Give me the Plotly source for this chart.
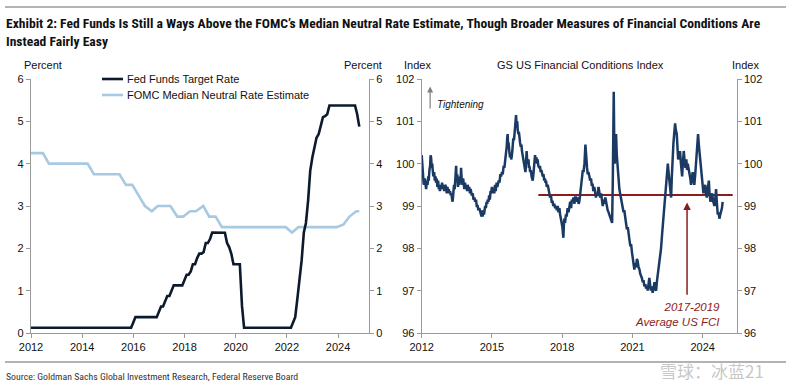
import datetime as dt
import plotly.graph_objects as go

# ---------------- data ----------------
# Fed funds target rate (midpoint, monthly average, month-end dates)
fed_dates = ["2012-01-01", "2015-11-30", "2015-12-31", "2016-01-31", "2016-11-30", "2016-12-31",
             "2017-01-31", "2017-02-28", "2017-03-31", "2017-04-30", "2017-05-31", "2017-06-30",
             "2017-07-31", "2017-11-30", "2017-12-31", "2018-01-31", "2018-02-28", "2018-03-31",
             "2018-04-30", "2018-05-31", "2018-06-30", "2018-07-31", "2018-08-31", "2018-09-30",
             "2018-10-31", "2018-11-30", "2018-12-31", "2019-01-31", "2019-07-31", "2019-08-31",
             "2019-09-30", "2019-10-31", "2019-11-30", "2020-02-29", "2020-03-31", "2020-04-30",
             "2022-02-28", "2022-03-31", "2022-04-30", "2022-05-31", "2022-06-30", "2022-07-31",
             "2022-08-31", "2022-09-30", "2022-10-31", "2022-11-30", "2022-12-31", "2023-01-31",
             "2023-02-28", "2023-03-31", "2023-04-30", "2023-05-31", "2023-06-30", "2023-07-31",
             "2023-08-31", "2024-08-31", "2024-09-30", "2024-10-31"]
fed_rate = [0.125, 0.125, 0.25, 0.375, 0.375, 0.52,
            0.625, 0.625, 0.76, 0.875, 0.875, 1.01,
            1.125, 1.125, 1.27, 1.375, 1.375, 1.455,
            1.625, 1.625, 1.77, 1.875, 1.875, 1.91,
            2.125, 2.125, 2.22, 2.375, 2.37, 2.125,
            2.03, 1.87, 1.625, 1.625, 0.64, 0.125,
            0.125, 0.25, 0.375, 0.81, 1.25, 1.72,
            2.375, 2.6, 3.125, 3.83, 4.15, 4.375,
            4.61, 4.70, 4.875, 5.10, 5.125, 5.165,
            5.375, 5.375, 5.175, 4.875]

# FOMC median longer-run (neutral) rate, SEP dates
neutral_dates = ["2012-01-01", "2012-04-25", "2012-06-20", "2012-09-13", "2012-12-12", "2013-03-20",
                 "2013-06-19", "2013-09-18", "2013-12-18", "2014-03-19", "2014-06-18", "2014-09-17",
                 "2014-12-17", "2015-03-18", "2015-06-17", "2015-09-17", "2015-12-16", "2016-03-16",
                 "2016-06-15", "2016-09-21", "2016-12-14", "2017-03-15", "2017-06-14", "2017-09-20",
                 "2017-12-13", "2018-03-21", "2018-06-13", "2018-09-26", "2018-12-19", "2019-03-20",
                 "2019-06-19", "2019-09-18", "2019-12-11", "2020-06-10", "2020-09-16", "2020-12-16",
                 "2021-03-17", "2021-06-16", "2021-09-22", "2021-12-15", "2022-03-16", "2022-06-15",
                 "2022-09-21", "2022-12-14", "2023-03-22", "2023-06-14", "2023-09-20", "2023-12-13",
                 "2024-03-20", "2024-06-12", "2024-09-18", "2024-10-31"]
neutral_rate = [4.25, 4.25, 4.25, 4.0, 4.0, 4.0,
                4.0, 4.0, 4.0, 4.0, 3.75, 3.75,
                3.75, 3.75, 3.75, 3.5, 3.5, 3.25,
                3.0, 2.875, 3.0, 3.0, 3.0, 2.75,
                2.75, 2.875, 2.875, 3.0, 2.75, 2.75,
                2.5, 2.5, 2.5, 2.5, 2.5, 2.5,
                2.5, 2.5, 2.5, 2.5, 2.375, 2.5,
                2.5, 2.5, 2.5, 2.5, 2.5, 2.5,
                2.5625, 2.75, 2.875, 2.875]

# GS US Financial Conditions Index (decimal years, index level)
fci_year = [2012.00, 2012.02, 2012.05, 2012.08, 2012.10, 2012.13, 2012.16, 2012.19, 2012.22, 2012.25,
            2012.28, 2012.30, 2012.33, 2012.36, 2012.38, 2012.40, 2012.43, 2012.45, 2012.47, 2012.50,
            2012.53, 2012.56, 2012.59, 2012.61, 2012.64, 2012.67, 2012.70, 2012.73, 2012.75, 2012.78,
            2012.81, 2012.84, 2012.87, 2012.90, 2012.93, 2012.96, 2013.00, 2013.04, 2013.07, 2013.10,
            2013.13, 2013.16, 2013.18, 2013.21, 2013.24, 2013.27, 2013.30, 2013.32, 2013.35, 2013.38,
            2013.41, 2013.44, 2013.47, 2013.49, 2013.52, 2013.55, 2013.58, 2013.61, 2013.64, 2013.66,
            2013.68, 2013.71, 2013.74, 2013.77, 2013.80, 2013.82, 2013.85, 2013.88, 2013.91, 2013.94,
            2013.96, 2014.00, 2014.03, 2014.06, 2014.09, 2014.11, 2014.14, 2014.18, 2014.21, 2014.25,
            2014.28, 2014.32, 2014.35, 2014.39, 2014.42, 2014.46, 2014.49, 2014.53, 2014.56, 2014.58,
            2014.60, 2014.63, 2014.66, 2014.68, 2014.71, 2014.74, 2014.77, 2014.80, 2014.82, 2014.85,
            2014.88, 2014.91, 2014.94, 2014.96, 2015.00, 2015.03, 2015.06, 2015.10, 2015.13, 2015.16,
            2015.20, 2015.23, 2015.25, 2015.29, 2015.32, 2015.36, 2015.39, 2015.43, 2015.46, 2015.50,
            2015.53, 2015.56, 2015.58, 2015.60, 2015.63, 2015.65, 2015.67, 2015.69, 2015.71, 2015.74,
            2015.77, 2015.80, 2015.82, 2015.84, 2015.87, 2015.89, 2015.91, 2015.94, 2015.97, 2016.00,
            2016.03, 2016.05, 2016.08, 2016.10, 2016.13, 2016.15, 2016.17, 2016.20, 2016.23, 2016.26,
            2016.28, 2016.31, 2016.34, 2016.37, 2016.40, 2016.43, 2016.45, 2016.48, 2016.50, 2016.53,
            2016.56, 2016.58, 2016.60, 2016.63, 2016.66, 2016.69, 2016.72, 2016.74, 2016.77, 2016.80,
            2016.82, 2016.84, 2016.87, 2016.90, 2016.93, 2016.95, 2016.98, 2017.02, 2017.05, 2017.08,
            2017.11, 2017.14, 2017.17, 2017.20, 2017.23, 2017.26, 2017.29, 2017.31, 2017.34, 2017.38,
            2017.41, 2017.45, 2017.48, 2017.52, 2017.55, 2017.59, 2017.62, 2017.66, 2017.70, 2017.74,
            2017.77, 2017.81, 2017.84, 2017.88, 2017.91, 2017.95, 2017.98, 2018.01, 2018.03, 2018.05,
            2018.07, 2018.09, 2018.12, 2018.16, 2018.19, 2018.23, 2018.27, 2018.31, 2018.34, 2018.38,
            2018.41, 2018.45, 2018.48, 2018.52, 2018.55, 2018.59, 2018.62, 2018.66, 2018.70, 2018.73,
            2018.77, 2018.80, 2018.83, 2018.85, 2018.88, 2018.91, 2018.95, 2018.99, 2019.01, 2019.03,
            2019.06, 2019.09, 2019.12, 2019.16, 2019.19, 2019.23, 2019.26, 2019.30, 2019.33, 2019.37,
            2019.40, 2019.44, 2019.47, 2019.51, 2019.55, 2019.59, 2019.62, 2019.66, 2019.70, 2019.73,
            2019.77, 2019.80, 2019.84, 2019.87, 2019.91, 2019.94, 2019.98, 2020.01, 2020.05, 2020.09,
            2020.13, 2020.16, 2020.18, 2020.20, 2020.22, 2020.24, 2020.27, 2020.30, 2020.33, 2020.37,
            2020.40, 2020.44, 2020.47, 2020.51, 2020.55, 2020.58, 2020.62, 2020.65, 2020.69, 2020.73,
            2020.76, 2020.80, 2020.83, 2020.87, 2020.91, 2020.94, 2020.98, 2021.01, 2021.05, 2021.08,
            2021.12, 2021.15, 2021.19, 2021.22, 2021.26, 2021.30, 2021.33, 2021.37, 2021.40, 2021.44,
            2021.47, 2021.51, 2021.55, 2021.58, 2021.62, 2021.65, 2021.69, 2021.72, 2021.76, 2021.79,
            2021.83, 2021.86, 2021.90, 2021.94, 2021.97, 2022.01, 2022.04, 2022.08, 2022.11, 2022.15,
            2022.18, 2022.22, 2022.26, 2022.29, 2022.33, 2022.36, 2022.40, 2022.43, 2022.47, 2022.51,
            2022.54, 2022.58, 2022.61, 2022.65, 2022.68, 2022.72, 2022.75, 2022.78, 2022.82, 2022.85,
            2022.89, 2022.92, 2022.95, 2022.99, 2023.03, 2023.07, 2023.12, 2023.15, 2023.19, 2023.22,
            2023.26, 2023.30, 2023.33, 2023.36, 2023.40, 2023.43, 2023.47, 2023.50, 2023.54, 2023.57,
            2023.61, 2023.64, 2023.68, 2023.72, 2023.76, 2023.80, 2023.84, 2023.89, 2023.92, 2023.96,
            2023.99, 2024.03, 2024.07, 2024.11, 2024.14, 2024.17, 2024.21, 2024.26, 2024.29, 2024.33,
            2024.37, 2024.40, 2024.45, 2024.50, 2024.54, 2024.57, 2024.60, 2024.64, 2024.68, 2024.71,
            2024.75, 2024.78, 2024.82, 2024.85]
fci_value = [100.2, 99.9, 99.8, 99.55, 99.5, 99.65, 99.45, 99.4, 99.6, 99.5,
             99.7, 99.6, 99.85, 99.95, 100.2, 100.15, 99.9, 100.0, 99.85, 99.7,
             99.8, 99.6, 99.7, 99.55, 99.65, 99.45, 99.6, 99.4, 99.5, 99.35,
             99.5, 99.4, 99.55, 99.4, 99.5, 99.35, 99.5, 99.45, 99.3, 99.45,
             99.35, 99.4, 99.3, 99.35, 99.25, 99.3, 99.15, 99.1, 99.3, 99.5,
             99.4, 99.7, 99.95, 99.6, 99.75, 99.45, 99.6, 99.5, 99.7, 99.55,
             99.9, 99.6, 99.5, 99.65, 99.45, 99.4, 99.55, 99.4, 99.5, 99.35,
             99.5, 99.4, 99.45, 99.3, 99.4, 99.35, 99.25, 99.3, 99.15, 99.2,
             99.1, 99.15, 99.0, 99.0, 98.9, 98.95, 98.85, 98.8, 98.75, 98.9,
             98.75, 98.85, 98.8, 98.95, 99.0, 98.95, 99.1, 99.05, 99.15, 99.1,
             99.25, 99.15, 99.35, 99.3, 99.45, 99.3, 99.4, 99.3, 99.5, 99.35,
             99.55, 99.45, 99.5, 99.6, 99.55, 99.75, 99.7, 99.8, 99.75, 99.95,
             99.9, 100.05, 100.0, 100.2, 100.4, 100.6, 100.7, 100.45, 100.5, 100.3,
             100.15, 100.25, 100.1, 100.15, 100.3, 100.45, 100.6, 100.55, 100.8, 100.95,
             101.15, 100.9, 101.0, 100.8, 100.7, 100.75, 100.6, 100.5, 100.4, 100.45,
             100.3, 100.2, 100.1, 100.0, 99.9, 99.8, 99.95, 100.3, 100.1, 100.0,
             100.1, 99.9, 99.95, 99.8, 99.85, 99.7, 99.6, 99.6, 99.75, 99.9,
             100.1, 100.2, 100.05, 100.15, 100.0, 100.1, 99.95, 99.9, 99.95, 99.8,
             99.85, 99.7, 99.7, 99.75, 99.6, 99.65, 99.55, 99.6, 99.45, 99.5,
             99.35, 99.3, 99.2, 99.25, 99.1, 99.1, 99.0, 99.05, 98.95, 99.0,
             98.9, 99.0, 98.85, 98.95, 98.8, 98.7, 98.6, 98.5, 98.35, 98.25,
             98.55, 98.7, 98.6, 98.8, 98.75, 98.95, 98.85, 99.0, 99.1, 98.95,
             99.15, 99.1, 99.2, 99.05, 99.2, 99.2, 99.1, 99.2, 99.05, 99.1,
             99.3, 99.5, 99.6, 99.7, 99.85, 99.8, 100.0, 100.45, 100.2, 100.0,
             99.9, 99.75, 99.8, 99.7, 99.6, 99.65, 99.5, 99.5, 99.35, 99.45,
             99.3, 99.2, 99.3, 99.25, 99.45, 99.35, 99.2, 99.3, 99.1, 99.0,
             99.15, 99.05, 99.2, 99.1, 99.0, 98.9, 98.85, 98.8, 98.7, 98.65,
             98.6, 99.6, 100.8, 101.7, 100.6, 100.0, 100.3, 100.7, 100.2, 99.8,
             99.6, 99.4, 99.3, 99.2, 99.1, 99.0, 98.85, 98.9, 98.7, 98.6,
             98.45, 98.5, 98.3, 98.2, 98.05, 98.1, 97.9, 97.8, 97.6, 97.5,
             97.65, 97.55, 97.75, 97.7, 97.55, 97.5, 97.4, 97.35, 97.3, 97.2,
             97.25, 97.1, 97.15, 97.05, 97.1, 97.0, 97.15, 97.3, 97.1, 97.0,
             97.1, 96.95, 97.05, 97.2, 97.05, 97.0, 97.2, 97.35, 97.5, 97.7,
             97.85, 98.0, 98.3, 98.5, 98.7, 98.9, 99.2, 99.45, 99.7, 100.0,
             99.8, 99.6, 99.4, 99.2, 99.7, 100.3, 100.5, 100.7, 100.95, 100.8,
             100.7, 100.4, 100.1, 100.2, 100.3, 100.0, 99.7, 100.0, 100.3, 100.1,
             99.9, 100.1, 99.85, 100.0, 99.9, 99.8, 99.65, 99.5, 99.7, 99.8,
             99.6, 99.5, 99.75, 100.0, 100.3, 100.7, 100.4, 100.1, 99.85, 99.6,
             99.45, 99.3, 99.4, 99.5, 99.3, 99.2, 99.35, 99.6, 99.3, 99.1,
             99.2, 99.3, 99.1, 99.0, 99.2, 99.4, 99.1, 98.8, 98.85, 98.7,
             98.8, 98.85, 98.95, 99.1]

# 2017-2019 average US FCI
avg_years = [2016.98, 2025.28]
avg_level = 99.26

left_ticks = [2012, 2014, 2016, 2018, 2020, 2022, 2024]
right_ticks = [2012, 2015, 2018, 2021, 2024]

TITLE = ("Exhibit 2: Fed Funds Is Still a Ways Above the FOMC\u2019s Median Neutral Rate Estimate, "
         "Though Broader Measures of Financial Conditions Are<br>Instead Fairly Easy")
SOURCE = "Source: Goldman Sachs Global Investment Research, Federal Reserve Board"


def yearfrac(s):
    d = dt.date.fromisoformat(s)
    start = dt.date(d.year, 1, 1)
    days = (dt.date(d.year + 1, 1, 1) - start).days
    return d.year + (d - start).days / days


W, H = 800, 385
def px(x):
    return x / W
def py(y):
    return 1 - y / H

FONT = "Liberation Sans, Arial, sans-serif"
NARROW = "Roboto Condensed, Roboto, Liberation Sans, sans-serif"
AXC = "#9a9a9a"
TXT = "#111111"

fed_x = [yearfrac(d) for d in fed_dates]
neu_x = [yearfrac(d) for d in neutral_dates]

fig = go.Figure()
fig.add_trace(go.Scatter(x=neu_x, y=neutral_rate, mode="lines",
                         line=dict(color="#a8c9e2", width=2.6), xaxis="x", yaxis="y",
                         showlegend=False, hoverinfo="skip"))
fig.add_trace(go.Scatter(x=fed_x, y=fed_rate, mode="lines",
                         line=dict(color="#0c1a2c", width=2.6), xaxis="x", yaxis="y",
                         showlegend=False, hoverinfo="skip"))
fig.add_trace(go.Scatter(x=avg_years, y=[avg_level, avg_level], mode="lines",
                         line=dict(color="#8c1c1c", width=1.8), xaxis="x2", yaxis="y3",
                         showlegend=False, hoverinfo="skip"))
fig.add_trace(go.Scatter(x=fci_year, y=fci_value, mode="lines",
                         line=dict(color="#1a3a63", width=2.5), xaxis="x2", yaxis="y3",
                         showlegend=False, hoverinfo="skip"))
# invisible copies so the right-hand (mirror) axes are drawn
fig.add_trace(go.Scatter(x=fed_x, y=fed_rate, mode="lines", opacity=0, line=dict(width=0),
                         xaxis="x", yaxis="y2", showlegend=False, hoverinfo="skip"))
fig.add_trace(go.Scatter(x=fci_year, y=fci_value, mode="lines", opacity=0, line=dict(width=0),
                         xaxis="x2", yaxis="y4", showlegend=False, hoverinfo="skip"))

YD = [py(333), py(79)]
common = dict(showgrid=False, zeroline=False, showline=True, linecolor=AXC, linewidth=1.2,
              ticks="outside", ticklen=4, tickcolor=AXC, tickwidth=1, automargin=False,
              tickfont=dict(family=FONT, size=11, color=TXT))

fig.update_layout(
    width=W, height=H, margin=dict(l=0, r=0, t=0, b=0, autoexpand=False),
    paper_bgcolor="white", plot_bgcolor="white", showlegend=False,
    xaxis=dict(domain=[px(31), px(369)], range=[2012, 2025.21], tickvals=left_ticks,
               anchor="y", **common),
    yaxis=dict(domain=YD, range=[0, 6], dtick=1, anchor="x", **common),
    yaxis2=dict(range=[0, 6], dtick=1, overlaying="y", side="right", anchor="x", **common),
    xaxis2=dict(domain=[px(421.7), px(736.7)], range=[2012, 2025.45], tickvals=right_ticks,
                anchor="y3", **common),
    yaxis3=dict(domain=YD, range=[96, 102], dtick=1, anchor="x2", **common),
    yaxis4=dict(range=[96, 102], dtick=1, overlaying="y3", side="right", anchor="x2", **common),
)

# page rules (thin filled rectangles) and legend swatches
fig.add_shape(type="rect", xref="paper", yref="paper", x0=px(5), x1=px(786),
              y0=py(7.8), y1=py(6.2), fillcolor="#9a9a9a", line=dict(width=0), layer="above")
fig.add_shape(type="rect", xref="paper", yref="paper", x0=px(5), x1=px(786),
              y0=py(362.8), y1=py(361.2), fillcolor="#9a9a9a", line=dict(width=0), layer="above")
fig.add_shape(type="line", xref="paper", yref="paper", x0=px(102), x1=px(123), y0=py(79), y1=py(79),
              line=dict(color="#0c1a2c", width=2.6))
fig.add_shape(type="line", xref="paper", yref="paper", x0=px(102), x1=px(123), y0=py(95), y1=py(95),
              line=dict(color="#a8c9e2", width=2.6))

def ann(text, x, y, size=11, xanchor="left", color=TXT, family=FONT, **kw):
    fig.add_annotation(text=text, x=px(x), y=py(y), xref="paper", yref="paper",
                       xanchor=xanchor, yanchor="middle", showarrow=False,
                       font=dict(family=family, size=size, color=color), **kw)

fig.add_annotation(text="<b>" + TITLE + "</b>", x=px(4), y=py(13), xref="paper", yref="paper",
                   xanchor="left", yanchor="top", showarrow=False, align="left",
                   font=dict(family=NARROW, size=13.6, color="#111111"))
ann(SOURCE, 4, 376, size=9.8, color="#333333", family=NARROW)
ann("Percent", 22, 65)
ann("Percent", 342, 65)
ann("Index", 402, 65)
ann("Index", 730, 65)
ann("GS US Financial Conditions Index", 580, 65, xanchor="center")
ann("Fed Funds Target Rate", 125, 79)
ann("FOMC Median Neutral Rate Estimate", 125, 95)
ann("雪球：冰蓝21", 712, 370, size=17, xanchor="center", color="rgba(150,150,150,0.55)",
    family="Noto Sans CJK SC")

# Tightening arrow
fig.add_annotation(x=2012.36, y=101.82, ax=2012.36, ay=101.27, xref="x2", yref="y3",
                   axref="x2", ayref="y3", showarrow=True, arrowhead=2, arrowsize=1,
                   arrowwidth=1.2, arrowcolor="#808080", text="")
fig.add_annotation(x=2012.55, y=101.4, xref="x2", yref="y3", text="<i>Tightening</i>",
                   showarrow=False, xanchor="left", yanchor="middle",
                   font=dict(family=FONT, size=10, color=TXT))
# Average FCI arrow
fig.add_annotation(x=2023.33, y=99.08, ax=2023.33, ay=96.87, xref="x2", yref="y3",
                   axref="x2", ayref="y3", showarrow=True, arrowhead=2, arrowsize=1,
                   arrowwidth=1.5, arrowcolor="#8c1c1c", text="")
fig.add_annotation(x=px(677), y=py(314), xref="paper", yref="paper",
                   text="<i>2017-2019<br>Average US FCI</i>", showarrow=False,
                   xanchor="center", yanchor="middle", align="right",
                   font=dict(family=FONT, size=11.5, color="#8c1c1c"))

fig.write_html("out.html", config={"displayModeBar": False},
               post_script="document.body.style.margin='0';document.body.style.overflow='hidden';")
